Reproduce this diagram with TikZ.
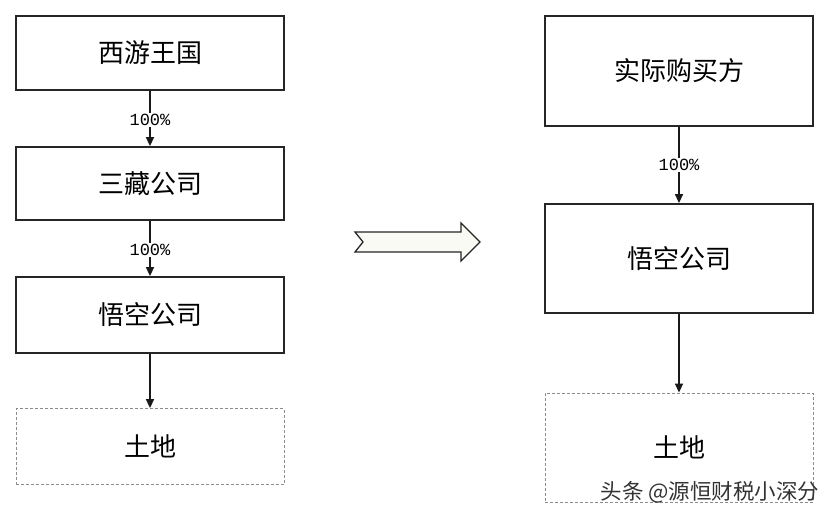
\documentclass[tikz,border=0pt]{standalone}
\usepackage{fontspec}
\newfontfamily\cjk{Noto Sans CJK SC}
\newfontfamily\mono{Liberation Mono}
\usetikzlibrary{arrows.meta}
\tikzset{
  box/.style={draw=black!85, line width=1.8pt, minimum width=268pt, inner sep=0pt, font=\cjk\fontsize{26}{30}\selectfont},
  dbox/.style={draw=black!45, line width=0.8pt, dash pattern=on 3pt off 2pt, minimum width=268pt, inner sep=0pt, font=\cjk\fontsize{26}{30}\selectfont},
  conn/.style={draw=black!90, line width=1.5pt, -{Triangle[length=9pt,width=8pt]}},
  pct/.style={fill=white, inner sep=1pt, font=\mono\fontsize{17}{18}\selectfont}
}
\begin{document}
\begin{tikzpicture}[x=1pt,y=-1pt]
\useasboundingbox[fill=white] (0,0) rectangle (838,516);
% left chain
\node[box, minimum height=74pt] (l1) at (150,53) {西游王国};
\node[box, minimum height=73pt] (l2) at (150,183.5) {三藏公司};
\node[box, minimum height=76pt] (l3) at (150,315) {悟空公司};
\node[dbox, minimum height=76pt] (l4) at (150,446.5) {土地};
\draw[conn] (l1) -- node[pct, pos=0.53] {100\%} (l2);
\draw[conn] (l2) -- node[pct, pos=0.53] {100\%} (l3);
\draw[conn] (l3) -- (l4);
% right chain
\node[box, minimum height=110pt] (r1) at (679,71) {实际购买方};
\node[box, minimum height=109pt] (r2) at (679,258.5) {悟空公司};
\node[dbox, minimum height=109pt] (r3) at (679,447.5) {土地};
\draw[conn] (r1) -- node[pct, pos=0.5] {100\%} (r2);
\draw[conn] (r2) -- (r3);
% transition arrow
\draw[fill=black!6!white!94!yellow!40!white, draw=black!85, line width=1.3pt, line join=miter]
  (355,232) -- (461,232) -- (461,223) -- (480,242) -- (461,261) -- (461,252) -- (355,252) -- (363,242) -- cycle;
% watermark
\node[font=\cjk\fontsize{21.5}{24}\selectfont, text=black!80, anchor=east] (wm) at (823,492) {头条 @源恒财税小深分};
\end{tikzpicture}
\end{document}
